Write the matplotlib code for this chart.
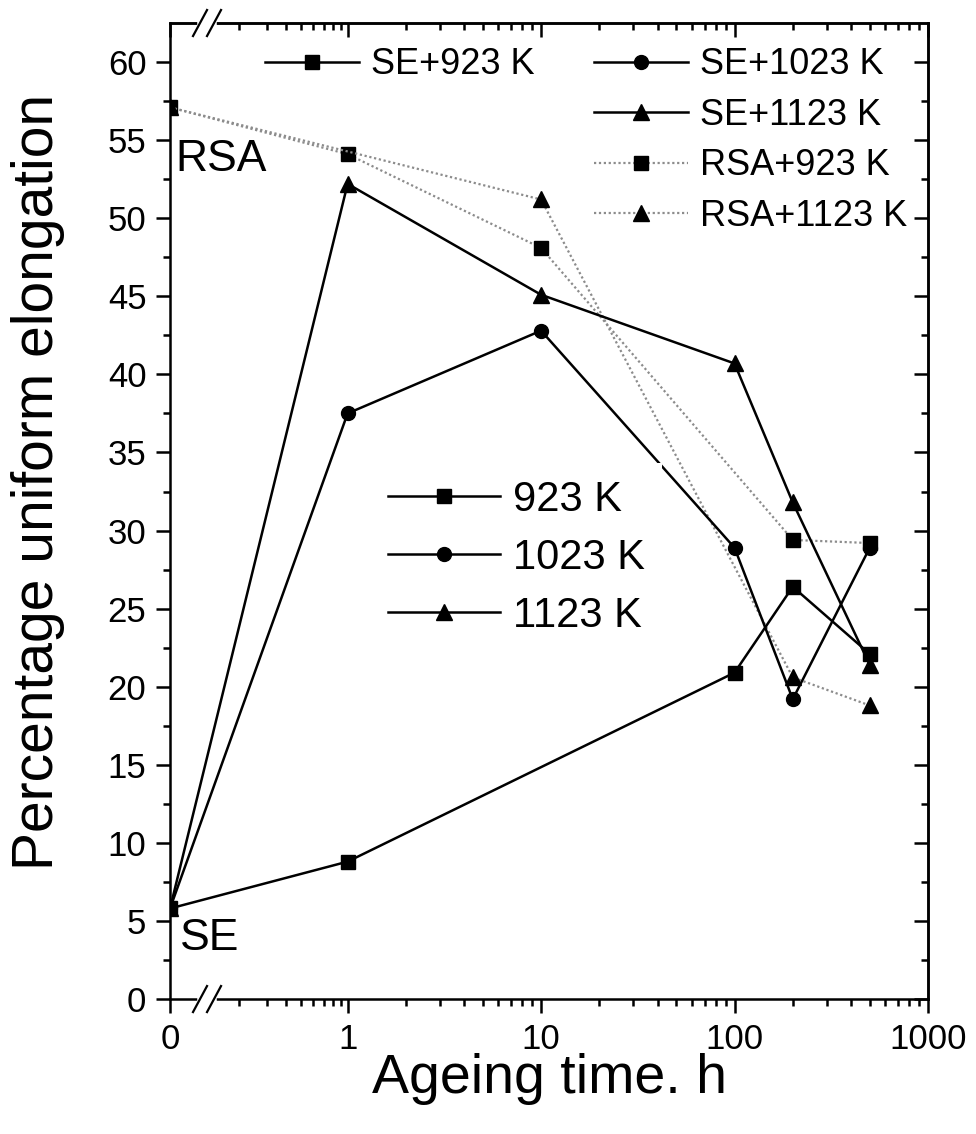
import numpy as np
import matplotlib
matplotlib.use("Agg")
import matplotlib.pyplot as plt
from matplotlib.lines import Line2D

plt.rcParams['font.family'] = ['Liberation Sans', 'DejaVu Sans']

# ageing time (h) and percentage uniform elongation
t_se923 = [0, 1, 100, 200, 500]
v_se923 = [5.8, 8.8, 20.9, 26.4, 22.1]
t_se1023 = [0, 1, 10, 100, 200, 500]
v_se1023 = [5.8, 37.5, 42.8, 28.9, 19.2, 28.9]
t_se1123 = [0, 1, 10, 100, 200, 500]
v_se1123 = [5.8, 52.2, 45.1, 40.7, 31.8, 21.4]
t_rsa923 = [0, 1, 10, 200, 500]
v_rsa923 = [57.1, 54.1, 48.1, 29.4, 29.2]
t_rsa1123 = [0, 10, 200, 500]
v_rsa1123 = [57.1, 51.2, 20.6, 18.8]

xtick_vals = [0, 1, 10, 100, 1000]
xtick_labels = ['0', '1', '10', '100', '1000']

U0 = -0.918   # where t=0 sits on the broken log axis


def tpos(t):
    t = np.asarray(t, dtype=float)
    out = np.full(t.shape, U0)
    pos = t > 0
    out[pos] = np.log10(t[pos])
    return out


fig = plt.figure(figsize=(9.76, 11.34), dpi=100)
ax = fig.add_axes([0.1742, 0.1190, 0.7766, 0.8607])

lw = 1.8
solid = dict(color='black', linewidth=lw, linestyle='-')
dotted = dict(color='0.55', linewidth=1.6, linestyle=(0, (1, 1.2)),
              markerfacecolor='black', markeredgecolor='black')

ax.plot(tpos(t_rsa923), v_rsa923, marker='s', markersize=9.5, **dotted, zorder=2)
ax.plot(tpos(t_rsa1123), v_rsa1123, marker='^', markersize=12, **dotted, zorder=2)
ax.plot(tpos(t_se923), v_se923, marker='s', markersize=9.5, **solid, zorder=3)
ax.plot(tpos(t_se1023), v_se1023, marker='o', markersize=10, **solid, zorder=3)
ax.plot(tpos(t_se1123), v_se1123, marker='^', markersize=12, **solid, zorder=3)

ax.set_xlim(U0, 2.99)
ax.set_ylim(0, 62.5)

# ticks
major_x = tpos(xtick_vals)
minor_x = [0.8 * np.log10(v) for v in np.arange(0.2, 1.0, 0.1)]
for dec in range(3):
    minor_x += [dec + np.log10(m) for m in range(2, 10)]
ax.set_xticks(major_x)
ax.set_xticklabels(xtick_labels)
ax.set_xticks(minor_x, minor=True)
ax.set_yticks(np.arange(0, 61, 5))
ax.set_yticks(np.arange(0, 62.5, 2.5), minor=True)

ax.tick_params(which='major', direction='out', length=10, width=lw,
               labelsize=25, pad=7)
ax.tick_params(which='minor', direction='out', length=5, width=lw)

sec_y = ax.secondary_yaxis('right')
sec_y.set_yticks(np.arange(0, 61, 5))
sec_y.set_yticks(np.arange(0, 62.5, 2.5), minor=True)
sec_y.tick_params(which='major', direction='in', length=10, width=lw, labelright=False)
sec_y.tick_params(which='minor', direction='in', length=5, width=lw)

sec_x = ax.secondary_xaxis('top')
sec_x.set_xticks(major_x)
sec_x.set_xticks(minor_x, minor=True)
sec_x.tick_params(which='major', direction='in', length=10, width=lw, labeltop=False)
sec_x.tick_params(which='minor', direction='in', length=5, width=lw)

for sp in list(ax.spines.values()) + [sec_y.spines['right'], sec_x.spines['top']]:
    sp.set_linewidth(lw)

# axis break marks
w_ax, h_ax = 758.0, 976.0
for yb in (0, 1):
    ax.plot([30 / w_ax, 44 / w_ax], [yb, yb], transform=ax.transAxes, color='white',
            linewidth=4, clip_on=False, zorder=5)
    for xc in (30, 44):
        ax.plot([(xc - 7) / w_ax, (xc + 7) / w_ax], [yb - 13 / h_ax, yb + 13 / h_ax],
                transform=ax.transAxes, color='black', linewidth=1.6,
                clip_on=False, zorder=6)

ax.set_xlabel('Ageing time. h', fontsize=40)
ax.xaxis.set_label_coords(0.5, -0.055)
ax.set_ylabel('Percentage uniform elongation', fontsize=41)
ax.yaxis.set_label_coords(-0.139, 0.53)

ax.text(0.007, 0.860, 'RSA', transform=ax.transAxes, fontsize=32, va='center', ha='left')
ax.text(0.013, 0.0625, 'SE', transform=ax.transAxes, fontsize=32, va='center', ha='left')


def h(marker, ms, style):
    return Line2D([], [], marker=marker, markersize=ms, **style)


leg_kw = dict(frameon=False, fontsize=26, handlelength=2.6, handletextpad=0.33,
              labelspacing=0.43, borderpad=0, borderaxespad=0, loc='upper left')
leg1 = ax.legend([h('s', 9.5, solid)], ['SE+923 K'],
                 bbox_to_anchor=(0.125, 0.975), **leg_kw)
ax.add_artist(leg1)
leg2 = ax.legend([h('o', 10, solid), h('^', 12, solid), h('s', 9.5, dotted), h('^', 12, dotted)],
                 ['SE+1023 K', 'SE+1123 K', 'RSA+923 K', 'RSA+1123 K'],
                 bbox_to_anchor=(0.559, 0.975), **leg_kw)
ax.add_artist(leg2)

leg3 = ax.legend([h('s', 9.5, solid), h('o', 10, solid), h('^', 12, solid)],
                 ['923 K', '1023 K', '1123 K'], loc='upper left',
                 bbox_to_anchor=(0.265, 0.549), fontsize=30, handlelength=2.7,
                 handletextpad=0.31, labelspacing=0.43, borderaxespad=0,
                 frameon=True, framealpha=1, facecolor='white', edgecolor='none',
                 fancybox=False)
leg3.set_zorder(10)

fig.savefig('out.png', dpi=100)
